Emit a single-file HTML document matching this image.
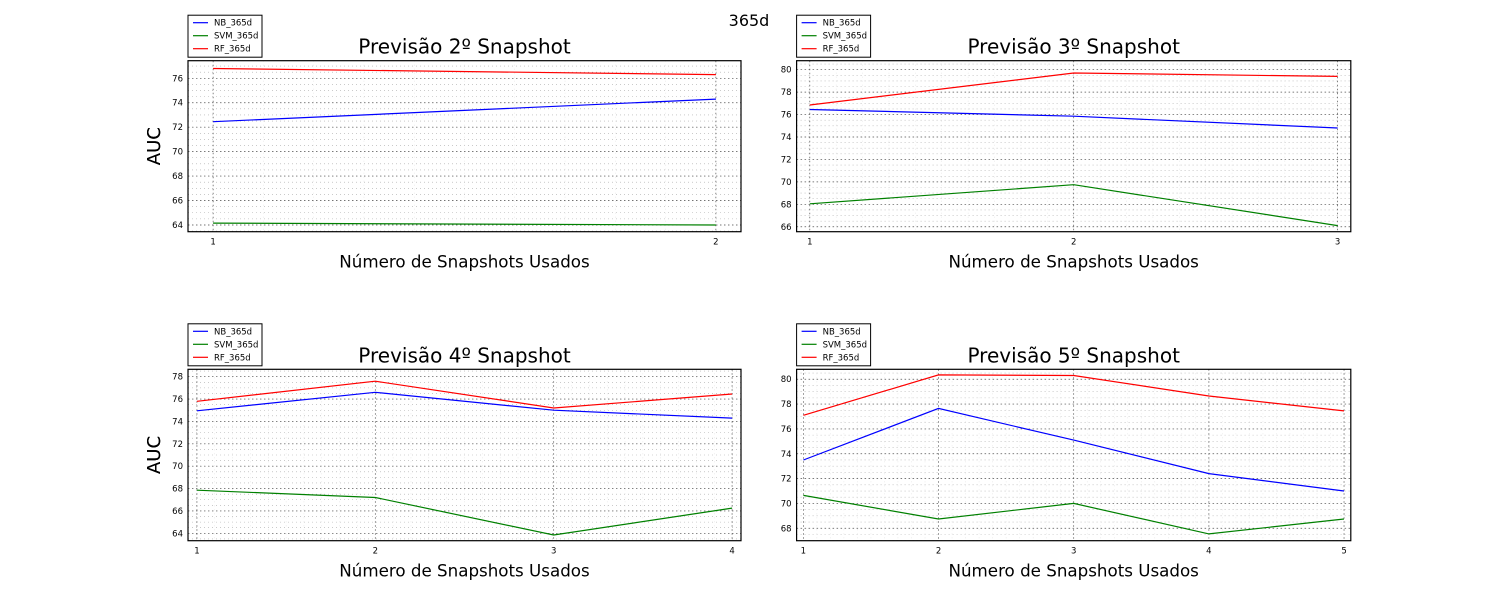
<!DOCTYPE html>
<html><head><meta charset="utf-8"><style>
html,body{margin:0;padding:0;background:#fff;}
svg{display:block;font-family:"DejaVu Sans","Liberation Sans",sans-serif;}
</style></head><body>
<svg id="fig" width="1500" height="600" viewBox="0 0 1500 600" xmlns="http://www.w3.org/2000/svg">
<rect width="1500" height="600" fill="#fff"/>
<text x="749" y="26" font-size="16" text-anchor="middle">365d</text>
</svg>
<script>
const seriesNames = ["NB_365d","SVM_365d","RF_365d"];
const seriesColors = ["#0000ff","#008000","#ff0000"];
const titles = ["Previsão 2º Snapshot","Previsão 3º Snapshot","Previsão 4º Snapshot","Previsão 5º Snapshot"];
const p1NB = [72.45, 74.3];
const p1SVM = [64.15, 64.0];
const p1RF = [76.8, 76.3];
const p2NB = [76.45, 75.85, 74.8];
const p2SVM = [68.05, 69.75, 66.1];
const p2RF = [76.85, 79.7, 79.4];
const p3NB = [74.95, 76.6, 75.0, 74.3];
const p3SVM = [67.85, 67.2, 63.85, 66.25];
const p3RF = [75.8, 77.6, 75.2, 76.45];
const p4NB = [73.5, 77.65, 75.1, 72.4, 71.0];
const p4SVM = [70.65, 68.75, 70.0, 67.55, 68.75];
const p4RF = [77.1, 80.35, 80.3, 78.65, 77.45];
const p1YTicks = [64,66,68,70,72,74,76];
const p2YTicks = [66,68,70,72,74,76,78,80];
const p3YTicks = [64,66,68,70,72,74,76,78];
const p4YTicks = [68,70,72,74,76,78,80];

const NS="http://www.w3.org/2000/svg";
const svg=document.getElementById('fig');
function mk(tag,attrs,parent){const e=document.createElementNS(NS,tag);for(const k in attrs)e.setAttribute(k,attrs[k]);(parent||svg).appendChild(e);return e;}

const panels=[
 {box:[188,60.7,741,231.7],y:[63.45,77.44],data:[p1NB,p1SVM,p1RF],yt:p1YTicks},
 {box:[796.6,60.7,1350.8,231.7],y:[65.56,80.8],data:[p2NB,p2SVM,p2RF],yt:p2YTicks},
 {box:[188,369.3,741,540.7],y:[63.34,78.66],data:[p3NB,p3SVM,p3RF],yt:p3YTicks},
 {box:[796.6,369.3,1350.8,540.7],y:[67.0,80.8],data:[p4NB,p4SVM,p4RF],yt:p4YTicks}
];
panels.forEach((p,pi)=>{
 const [x0,y0,x1,y1]=p.box;
 const n=p.data[0].length;
 const xmin=0.95,xmax=n+0.05;
 const X=v=>x0+(v-xmin)/(xmax-xmin)*(x1-x0);
 const Y=v=>y1-(v-p.y[0])/(p.y[1]-p.y[0])*(y1-y0);
 const g=mk('g',{});
 
 
 for(let v=Math.ceil(p.y[0]*2)/2;v<=p.y[1];v+=0.5){
  const l=mk('line',{x1:x0,x2:x1,y1:Y(v),y2:Y(v),stroke:'#aaa','stroke-width':0.6,'stroke-dasharray':'1,3'},g);
  
  
 }
 for(let v=Math.ceil(xmin*10)/10;v<=xmax;v+=0.1){
  const l=mk('line',{x1:X(v),x2:X(v),y1:y0,y2:y1,stroke:'#ddd','stroke-width':0.5,'stroke-dasharray':'1,3'},g);
  
  
 }
 p.yt.forEach(v=>{
  const l=mk('line',{x1:x0,x2:x1,y1:Y(v),y2:Y(v),stroke:'#555','stroke-width':0.7,'stroke-dasharray':'1.5,2.5'},g);
  
  
  const t=mk('text',{x:x0-5,y:Y(v)+3,'font-size':8.5,'text-anchor':'end'},g);
  t.textContent=v;
  
  
 });
 for(let i=1;i<=n;i++){
  const l=mk('line',{x1:X(i),x2:X(i),y1:y0,y2:y1,stroke:'#555','stroke-width':0.7,'stroke-dasharray':'1.5,2.5'},g);
  
  
  const t=mk('text',{x:X(i),y:y1+13,'font-size':8.5,'text-anchor':'middle'},g);
  t.textContent=i;
  
  
 }
 p.data.forEach((arr,si)=>{
  const pts=arr.map((v,i)=>X(i+1).toFixed(1)+','+Y(v).toFixed(1)).join(' ');
  const pl=mk('polyline',{points:pts,fill:'none',stroke:seriesColors[si],'stroke-width':1.2},g);
  
  
 });
 const fr=mk('rect',{x:x0,y:y0,width:x1-x0,height:y1-y0,fill:'none',stroke:'#000','stroke-width':1.2},g);
 
 
 const tt=mk('text',{x:(x0+x1)/2,y:y0-7,'font-size':20,'text-anchor':'middle'},g);
 tt.textContent=titles[pi];
 
 
 const yl=mk('text',{x:0,y:0,'font-size':18,'text-anchor':'middle',transform:`translate(160,${(y0+y1)/2}) rotate(-90)`},g);
 yl.textContent='AUC';
 
 
 const xl=mk('text',{x:(x0+x1)/2,y:y1+36,'font-size':16.7,'text-anchor':'middle'},g);
 xl.textContent='Número de Snapshots Usados';
 
 
 const lg=mk('g',{},g);
 
 
 const ly=y0-45.5;
 mk('rect',{x:x0,y:ly,width:74,height:42,fill:'#fff',stroke:'#000','stroke-width':1},lg);
 seriesNames.forEach((s,si)=>{
  const yy=ly+7.5+si*13;
  mk('line',{x1:x0+5,x2:x0+20,y1:yy,y2:yy,stroke:seriesColors[si],'stroke-width':1.2},lg);
  const t=mk('text',{x:x0+26,y:yy+3,'font-size':8.5},lg);
  t.textContent=s;
  
  
 });
});
</script>
</body></html>
